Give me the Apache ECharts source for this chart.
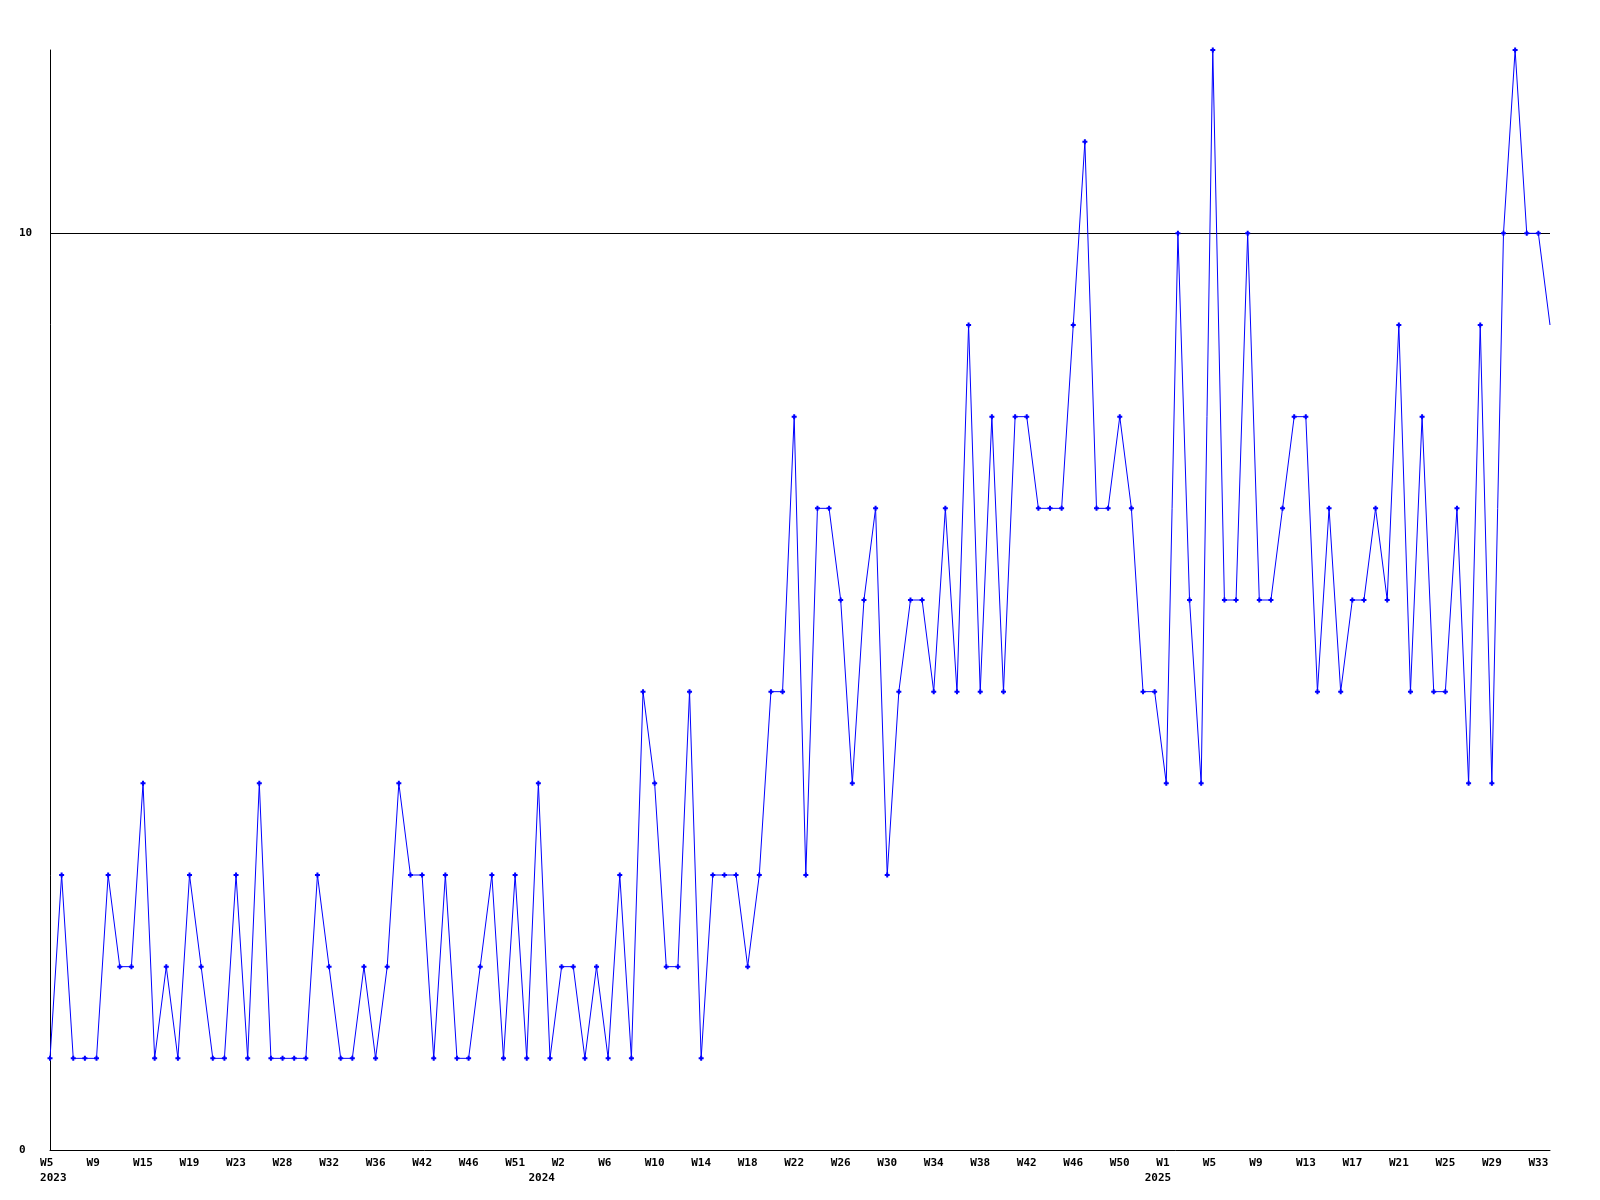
<!DOCTYPE html>
<html>
<head>
<meta charset="utf-8">
<script src="https://cdn.jsdelivr.net/npm/echarts@6/dist/echarts.min.js"></script>
<style>
  html, body { margin: 0; padding: 0; background: #ffffff; }
  #chart { width: 1600px; height: 1200px; }
</style>
</head>
<body>
<div id="chart"></div>
<script>
// Week categories (only every 4th is labelled on the axis)
const weeks = [
  'W5','W6','W7','W8','W9','W10','W12','W14','W15','W16','W17','W18','W19','W20','W21','W22','W23',
  'W24','W25','W27','W28','W29','W30','W31','W32','W33','W34','W35','W36','W37','W39','W40','W42',
  'W43','W44','W45','W46','W47','W48','W50','W51','W52','W53','W1','W2','W3','W4','W5','W6',
  'W7','W8','W9','W10','W11','W12','W13','W14','W15','W16','W17','W18','W19','W20','W21','W22',
  'W23','W24','W25','W26','W27','W28','W29','W30','W31','W32','W33','W34','W35','W36','W37','W38',
  'W39','W40','W41','W42','W43','W44','W45','W46','W47','W48','W49','W50','W51','W52','W53','W1',
  'W2','W3','W4','W5','W6','W7','W8','W9','W10','W11','W12','W13','W14','W15','W16','W17',
  'W18','W19','W20','W21','W22','W23','W24','W25','W26','W27','W28','W29','W30','W31','W32','W33','W34'
];
// Year labels: category index where each year's label is printed
const yearMarks = { 0: '2023', 42: '2024', 95: '2025' };

// Weekly values
const values = [
  1,3,1,1,1,3,2,2,4,1,2,1,3,2,1,1,3,1,4,1,
  1,1,1,3,2,1,1,2,1,2,4,3,3,1,3,1,1,2,3,1,
  3,1,4,1,2,2,1,2,1,3,1,5,4,2,2,5,1,3,3,3,
  2,3,5,5,8,3,7,7,6,4,6,7,3,5,6,6,5,7,5,9,
  5,8,5,8,8,7,7,7,9,11,7,7,8,7,5,5,4,10,6,4,
  12,6,6,10,6,6,7,8,8,5,7,5,6,6,7,6,9,5,8,5,
  5,7,4,9,4,10,12,10,10,9
];

const yTickLabels = [0, 10];
const referenceLevel = 10;

const chart = echarts.init(document.getElementById('chart'), null, { renderer: 'canvas' });
const FONT = 'DejaVu Sans Mono';

const plus = 'path://M1.5,0 L3.5,0 L3.5,1.5 L5,1.5 L5,3.5 L3.5,3.5 L3.5,5 L1.5,5 L1.5,3.5 L0,3.5 L0,1.5 L1.5,1.5 Z';

const labelFont = {
  color: '#000000',
  fontFamily: FONT,
  fontWeight: 'bold',
  fontSize: 11,
  lineHeight: 15
};

chart.setOption({
  backgroundColor: '#ffffff',
  animation: false,
  grid: { left: 50, right: 50, top: 50, bottom: 50, containLabel: false },
  xAxis: [{
    type: 'category',
    data: weeks,
    position: 'bottom',
    boundaryGap: false,
    axisLine: { show: true, lineStyle: { color: '#000000', width: 1 } },
    axisTick: { show: false },
    splitLine: { show: false },
    axisLabel: Object.assign({
      interval: 3,
      margin: 6,
      formatter: function (v) {
        // fixed 3-character cell (monospace), as in the original
        return v.length < 3 ? v + ' ' : v;
      }
    }, labelFont)
  }, {
    type: 'category',
    data: weeks,
    position: 'bottom',
    offset: 0,
    boundaryGap: false,
    axisLine: { show: false },
    axisTick: { show: false },
    splitLine: { show: false },
    axisLabel: Object.assign({
      interval: function (i) { return yearMarks[i] !== undefined; },
      margin: 21,
      formatter: function (v, i) { return ' ' + (yearMarks[i] || ''); }
    }, labelFont)
  }],
  yAxis: {
    type: 'value',
    min: 0,
    max: 12,
    interval: 10,
    axisLine: { show: true, lineStyle: { color: '#000000', width: 1 } },
    axisTick: { show: false },
    splitLine: { show: false },
    axisLabel: {
      align: 'left',
      margin: 31,
      padding: [2, 0, 0, 0],
      color: '#000000',
      fontFamily: FONT,
      fontWeight: 'bold',
      fontSize: 11,
      formatter: function (v) {
        return yTickLabels.indexOf(v) >= 0 ? String(v) : '';
      }
    }
  },
  series: [{
    type: 'line',
    xAxisIndex: 0,
    data: values.map(function (v, i) {
      return i === values.length - 1 ? { value: v, symbol: 'none' } : v;
    }),
    symbol: plus,
    symbolSize: 5,
    showAllSymbol: true,
    lineStyle: { color: '#0000ff', width: 1 },
    itemStyle: { color: '#0000ff' },
    markLine: {
      silent: true,
      symbol: ['none', 'none'],
      label: { show: false },
      lineStyle: { color: '#000000', width: 1, type: 'solid' },
      data: [{ yAxis: referenceLevel }],
      z: 1
    },
    z: 3
  }]
});
</script>
</body>
</html>
